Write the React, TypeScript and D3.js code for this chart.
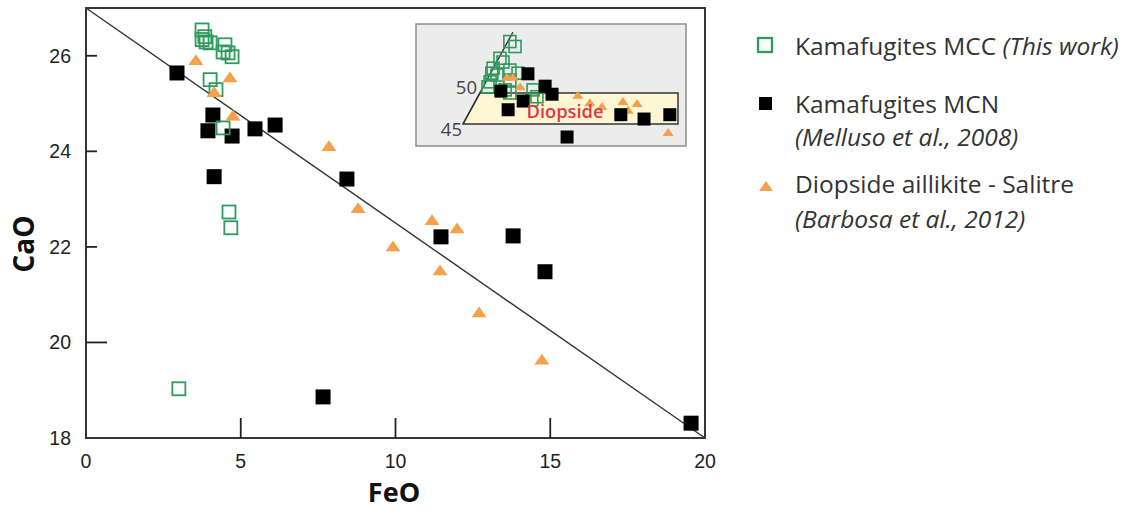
import React from 'react';
import * as d3 from 'd3';

// main diagram values (wt%)
const xTicks = [0, 5, 10, 15, 20];
const yTicks = [18, 20, 22, 24, 26];

const mccFeO = [3.75, 3.84, 3.88, 3.75, 4.01, 4.49, 4.43, 4.72, 4.59, 4.01, 4.2, 4.43, 4.62, 4.68, 3.0];
const mccCaO = [26.54, 26.4, 26.29, 26.34, 26.27, 26.23, 26.08, 25.98, 26.06, 25.5, 25.29, 24.49, 22.73, 22.4, 19.03];

const mcnFeO = [2.94, 4.1, 3.94, 4.72, 5.46, 6.11, 4.14, 8.43, 11.47, 13.8, 14.83, 7.66, 19.55];
const mcnCaO = [25.64, 24.76, 24.43, 24.32, 24.47, 24.55, 23.47, 23.42, 22.21, 22.23, 21.48, 18.86, 18.31];

const salFeO = [3.55, 4.65, 4.14, 4.75, 7.85, 8.79, 11.18, 11.99, 9.92, 11.44, 12.7, 14.73];
const salCaO = [25.92, 25.56, 25.25, 24.76, 24.12, 22.82, 22.57, 22.4, 22.02, 21.52, 20.64, 19.65];

// inset (pyroxene quadrilateral, Wo vs Fs)
const insetMccFs = [10.9, 12.1, 8.6, 9.3, 7.0, 6.7, 7.9, 6.3, 5.8, 10.9, 12.8, 10.9, 9.8, 10.9, 16.3, 17.2, 16.0];
const insetMccWo = [58.3, 57.5, 55.6, 55.0, 54.0, 53.2, 52.9, 51.8, 51.0, 53.7, 53.2, 52.1, 50.5, 50.0, 50.5, 49.4, 48.9];
const insetMcnFs = [15.1, 8.8, 10.5, 14.0, 19.1, 20.7, 24.2, 36.7, 42.1, 48.1];
const insetMcnWo = [53.1, 50.3, 47.3, 48.7, 51.1, 49.8, 42.9, 46.5, 45.8, 46.5];
const insetSalFs = [10.2, 11.6, 13.3, 26.7, 29.5, 32.3, 37.2, 40.5, 38.4, 47.7];
const insetSalWo = [52.6, 52.6, 51.1, 49.7, 48.5, 47.9, 48.7, 48.4, 47.3, 43.7];
const diopsideFs = [0, 3.95, 50, 50];
const diopsideWo = [45, 50, 50, 45];
const edgeFs = [0, 11.6];
const edgeWo = [45, 59.8];

const GREEN = '#2e9a5c';
const ORANGE = '#f5a04b';

const tri = (cx: number, cy: number, w: number) => {
  const h = w * 0.72;
  return `M${cx - w / 2},${cy + h / 2}L${cx},${cy - h / 2}L${cx + w / 2},${cy + h / 2}Z`;
};

export default function App() {
  const x = d3.scaleLinear().domain([0, 20]).range([86, 705]);
  const y = d3.scaleLinear().domain([18, 27]).range([438, 8]);

  const ix = d3.scaleLinear().domain([0, 50]).range([463, 678]);
  const iy = d3.scaleLinear().domain([45, 50]).range([124, 93]);

  const line = d3.line<number>().x((d) => d[0]).y((d) => d[1]);
  const field = diopsideFs.map((f, i) => [ix(f), iy(diopsideWo[i])] as [number, number]);
  const edge = edgeFs.map((f, i) => [ix(f), iy(edgeWo[i])] as [number, number]);

  const tickFont = { fontFamily: 'Liberation Sans, Arial, sans-serif', fontSize: 19.5, fill: '#222' };
  const legFont = { fontFamily: 'Open Sans, sans-serif', fontSize: 24.5, fill: '#333' };
  const titleFont = { fontFamily: 'Open Sans, sans-serif', fontWeight: 700, fontSize: 27, fill: '#111' };
  const insetFont = { fontFamily: 'Open Sans, sans-serif', fontSize: 18.5, fill: '#444' };

  return (
    <svg width={1130} height={510} style={{ position: 'absolute', left: 0, top: 0, background: '#fff' }}>
      {/* frame */}
      <rect x={86} y={8} width={619} height={430} fill="none" stroke="#222" strokeWidth={1.8} />
      {/* 1:1 diagonal */}
      <path d={line([[x(0), y(27)], [x(20), y(18)]])!} stroke="#333" strokeWidth={1.4} fill="none" />

      {xTicks.map((t) => (
        <g key={'x' + t}>
          {t > 0 && t < 20 && <line x1={x(t)} x2={x(t)} y1={438} y2={418} stroke="#222" strokeWidth={1.8} />}
          <text x={x(t)} y={468} textAnchor="middle" style={tickFont}>{t}</text>
        </g>
      ))}
      {yTicks.map((t) => (
        <g key={'y' + t}>
          {t > 18 && <line x1={86} x2={t === 20 ? 107 : 97} y1={y(t)} y2={y(t)} stroke="#222" strokeWidth={1.8} />}
          <text x={71} y={y(t) + 7} textAnchor="end" style={tickFont}>{t}</text>
        </g>
      ))}
      <text x={394} y={501.5} textAnchor="middle" style={titleFont}>FeO</text>
      <text transform={`translate(34,${244}) rotate(-90)`} textAnchor="middle" style={{ ...titleFont, fontSize: 28 }}>CaO</text>

      {/* inset */}
      <rect x={416} y={24} width={270} height={122} fill="#ececec" stroke="#8e8e8e" strokeWidth={1.5} />
      <path d={line(field)! + 'Z'} fill="#fff7d4" stroke="#333" strokeWidth={1.5} />
      <path d={line(edge)!} fill="none" stroke="#333" strokeWidth={1.4} />
      <text x={ix(3.95) - 3} y={iy(50) + 1} textAnchor="end" style={insetFont}>50</text>
      <text x={ix(0) - 1} y={iy(45) + 12} textAnchor="end" style={insetFont}>45</text>
      {insetMccFs.map((f, i) => (
        <rect key={'im' + i} x={ix(f) - 6} y={iy(insetMccWo[i]) - 6} width={12} height={12} fill="none" stroke={GREEN} strokeWidth={1.6} />
      ))}
      {insetSalFs.map((f, i) => (
        <path key={'is' + i} d={tri(ix(f), iy(insetSalWo[i]), 11)} fill={ORANGE} />
      ))}
      {insetMcnFs.map((f, i) => (
        <rect key={'in' + i} x={ix(f) - 6.5} y={iy(insetMcnWo[i]) - 6.5} width={13} height={13} fill="#000" />
      ))}
      <text x={565} y={118} textAnchor="middle" style={{ fontFamily: 'Open Sans, sans-serif', fontSize: 18.3, fontWeight: 600, fill: '#e0393f' }}>Diopside</text>

      {/* main data */}
      {mcnFeO.map((f, i) => (
        <rect key={'n' + i} x={x(f) - 7.5} y={y(mcnCaO[i]) - 7.5} width={15} height={15} fill="#000" />
      ))}
      {mccFeO.map((f, i) => (
        <rect key={'c' + i} x={x(f) - 6.5} y={y(mccCaO[i]) - 6.5} width={13} height={13} fill="none" stroke={GREEN} strokeWidth={1.8} />
      ))}
      {salFeO.map((f, i) => (
        <path key={'s' + i} d={tri(x(f), y(salCaO[i]), 15)} fill={ORANGE} />
      ))}

      {/* legend */}
      <rect x={758} y={38} width={14} height={14} fill="none" stroke={GREEN} strokeWidth={2.3} />
      <text x={795} y={55} style={legFont}>Kamafugites MCC <tspan fontStyle="italic">(This work)</tspan></text>
      <rect x={759} y={97} width={13} height={13} fill="#000" />
      <text x={795} y={113} style={legFont}>Kamafugites MCN</text>
      <text x={795} y={146} style={legFont} fontStyle="italic">(Melluso et al., 2008)</text>
      <path d={tri(766, 186, 14)} fill={ORANGE} />
      <text x={795} y={193} style={legFont}>Diopside aillikite - Salitre</text>
      <text x={795} y={228} style={legFont} fontStyle="italic">(Barbosa et al., 2012)</text>
    </svg>
  );
}
